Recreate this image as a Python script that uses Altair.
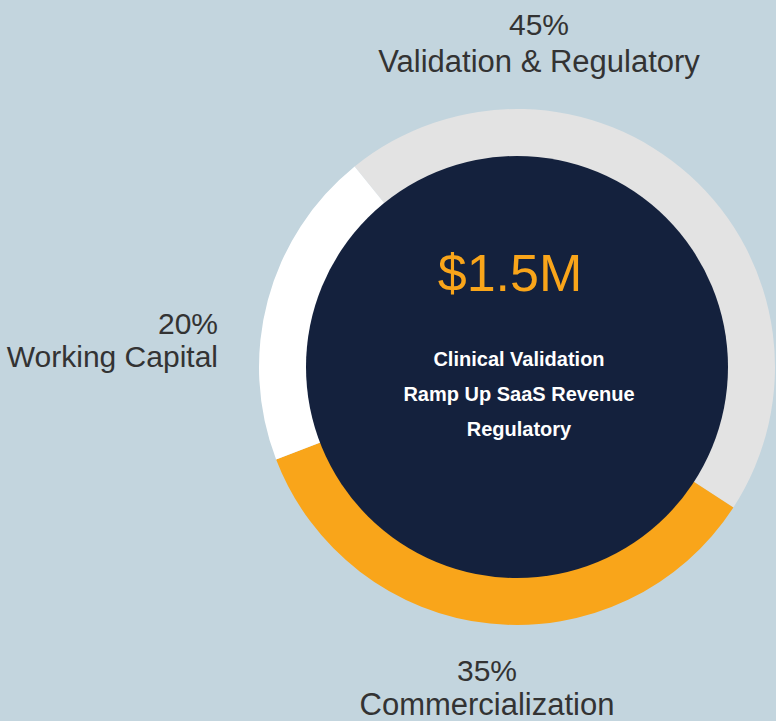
import math
import pandas as pd
import altair as alt

# ---- data ----
categories = ["Validation & Regulatory", "Commercialization", "Working Capital"]
shares = [45, 35, 20]
slice_order = [0, 1, 2]
slice_colors = ["#e3e3e3", "#f9a51a", "#ffffff"]
headline = "$1.5M"
uses = ["Clinical Validation", "Ramp Up SaaS Revenue", "Regulatory"]

# ---- layout ----
W, H = 776, 721
CX, CY = 517, 367
R_OUT, R_IN = 258, 211
START = 2 * math.pi - math.radians(39)
BG = "#c3d5de"
NAVY = "#14213d"
TEXT = "#333333"
FONT = "Liberation Sans"

# label anchors: x, baseline of percent line, baseline of name line, align, name font size
label_pos = {
    "Validation & Regulatory": (539, 35, 72, "center", 31),
    "Working Capital": (218, 334, 367, "right", 30),
    "Commercialization": (487, 681, 715, "center", 31),
}

df = pd.DataFrame({"category": categories, "share": shares, "order": slice_order})

ring = alt.Chart(df).mark_arc(outerRadius=R_OUT, innerRadius=R_IN - 8).encode(
    theta=alt.Theta("share:Q", stack=True,
                    scale=alt.Scale(domain=[0, 100], range=[START, START + 2 * math.pi])),
    color=alt.Color("category:N", scale=alt.Scale(domain=categories, range=slice_colors), legend=None),
    order=alt.Order("order:Q"),
    x=alt.value(CX),
    y=alt.value(CY),
)

hub = alt.Chart(pd.DataFrame({"k": [0]})).mark_arc(
    outerRadius=R_IN, innerRadius=0, color=NAVY
).encode(
    theta=alt.value(0), theta2=alt.value(2 * math.pi),
    x=alt.value(CX), y=alt.value(CY),
)

layers = [ring, hub]

for cat in categories:
    lx, y1, y2, align, fs = label_pos[cat]
    base = alt.Chart(df).transform_filter(alt.datum.category == cat)
    layers.append(
        base.transform_calculate(pct="datum.share + '%'").mark_text(
            font=FONT, fontSize=30, color=TEXT, align=align, baseline="alphabetic"
        ).encode(text="pct:N", x=alt.value(lx), y=alt.value(y1))
    )
    layers.append(
        base.mark_text(
            font=FONT, fontSize=fs, color=TEXT, align=align, baseline="alphabetic"
        ).encode(text="category:N", x=alt.value(lx), y=alt.value(y2))
    )

layers.append(
    alt.Chart(pd.DataFrame({"t": [headline]})).mark_text(
        font=FONT, fontSize=52, color="#f9a51a", align="center", baseline="alphabetic"
    ).encode(text="t:N", x=alt.value(510), y=alt.value(291))
)

uses_df = pd.DataFrame({"line": uses, "i": list(range(len(uses)))})
for i, _ in enumerate(uses):
    layers.append(
        alt.Chart(uses_df).transform_filter(alt.datum.i == i).mark_text(
            font=FONT, fontSize=20, fontWeight="bold", color="#ffffff",
            align="center", baseline="alphabetic"
        ).encode(text="line:N", x=alt.value(519), y=alt.value(366 + 35 * i))
    )

chart = alt.layer(*layers).properties(
    width=W, height=H, padding=0, autosize=alt.AutoSizeParams(type="none"),
    background=BG,
).configure_view(stroke=None)

chart.save("out.html", embed_options={"renderer": "svg", "actions": False})
